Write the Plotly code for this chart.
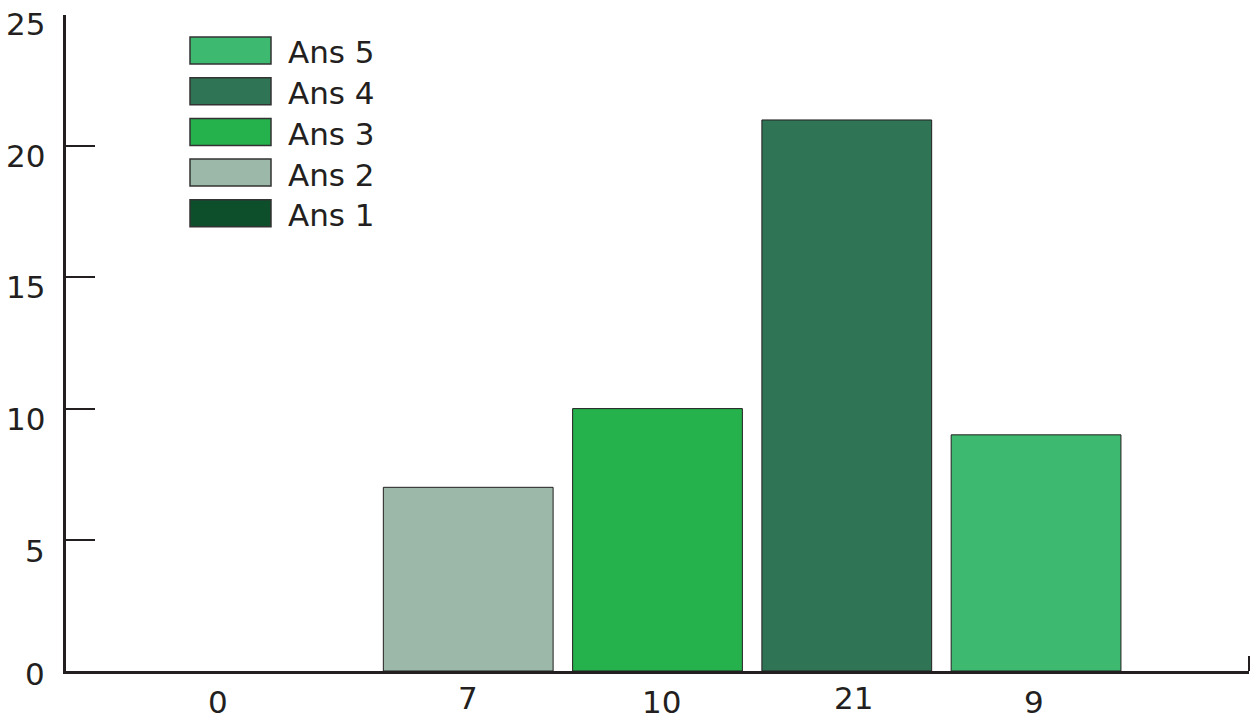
import plotly.graph_objects as go

# Answer categories, counts and fill colours
answers = ["Ans 1", "Ans 2", "Ans 3", "Ans 4", "Ans 5"]
counts = [0, 7, 10, 21, 9]
colors = ["#0d4f2a", "#9bb8a9", "#25b24c", "#2f7455", "#3dba6f"]
y_ticks = [0, 5, 10, 15, 20, 25]

INK = "#231f20"
FONT = "DejaVu Sans, Verdana, sans-serif"
FS = 31

# page geometry (pixels)
W, H = 1253, 720
L, R, T, B = 66, 4, 15, 49
PW, PH = W - L - R, H - T - B


def px_x(px):
    return (px - L) / PW


def px_y(py):
    return (H - B - py) / PH


fig = go.Figure()
for i, (name, val, col) in enumerate(zip(answers, counts, colors)):
    fig.add_trace(go.Bar(
        x=[i], y=[val], name=name, width=0.897,
        # an empty bar gets no outline so nothing shows along the axis
        marker=dict(color=col, line=dict(color=INK, width=1 if val else 0)),
        showlegend=False,
    ))

annotations = []
shapes = []

# value labels under the bars (slightly staggered)
x_shift = [-61, 0, 4, 7, -2]
y_shift = [-31, -27, -31, -27, -31]
for i, val in enumerate(counts):
    annotations.append(dict(
        x=i, y=0, xref="x", yref="y", text=str(val), showarrow=False,
        xanchor="center", yanchor="middle", xshift=x_shift[i], yshift=y_shift[i],
        height=26, valign="middle", borderpad=0,
        font=dict(family=FONT, size=FS, color=INK),
    ))

# y tick labels, set slightly below their tick marks
tick_shift = [-3, -11, -10, -10, -10, -9]
for t, s in zip(y_ticks, tick_shift):
    annotations.append(dict(
        x=0, y=t, xref="paper", yref="y", text=str(t), showarrow=False,
        xanchor="right", yanchor="middle", xshift=-19, yshift=s,
        height=30, valign="middle",
        font=dict(family=FONT, size=FS, color=INK),
    ))

# legend: large swatches, top entry is the last answer
box_left, box_right, text_left = 190, 271, 289
box_top0, box_step, box_h = 37, 40.7, 27
for k, idx in enumerate(reversed(range(len(answers)))):
    top = box_top0 + k * box_step
    shapes.append(dict(
        type="rect", xref="paper", yref="paper",
        x0=px_x(box_left), x1=px_x(box_right),
        y0=px_y(top + box_h), y1=px_y(top),
        fillcolor=colors[idx], line=dict(color="#333333", width=1.5),
    ))
    annotations.append(dict(
        x=px_x(text_left), y=px_y(top + box_h / 2), xref="paper", yref="paper",
        text=answers[idx], showarrow=False, xanchor="left", yanchor="middle",
        xshift=-3, yshift=-2,
        font=dict(family=FONT, size=FS, color=INK),
    ))

# small end tick at the right of the x axis
shapes.append(dict(
    type="line", xref="paper", yref="paper",
    x0=1, x1=1, y0=0, y1=px_y(656),
    line=dict(color=INK, width=2),
))

fig.update_layout(
    width=W, height=H,
    margin=dict(l=L, r=R, t=T, b=B),
    paper_bgcolor="white", plot_bgcolor="white",
    barmode="overlay",
    showlegend=False,
    annotations=annotations,
    shapes=shapes,
    xaxis=dict(
        range=[-1.125, 5.125], showgrid=False, zeroline=False,
        showticklabels=False, ticks="",
        showline=True, linecolor=INK, linewidth=2.5,
    ),
    yaxis=dict(
        range=[0, 25], tickvals=y_ticks, showticklabels=False,
        ticks="inside", ticklen=29, tickwidth=2, tickcolor=INK,
        showgrid=False, zeroline=False,
        showline=True, linecolor=INK, linewidth=2.5,
    ),
)

fig.write_html("out.html")
